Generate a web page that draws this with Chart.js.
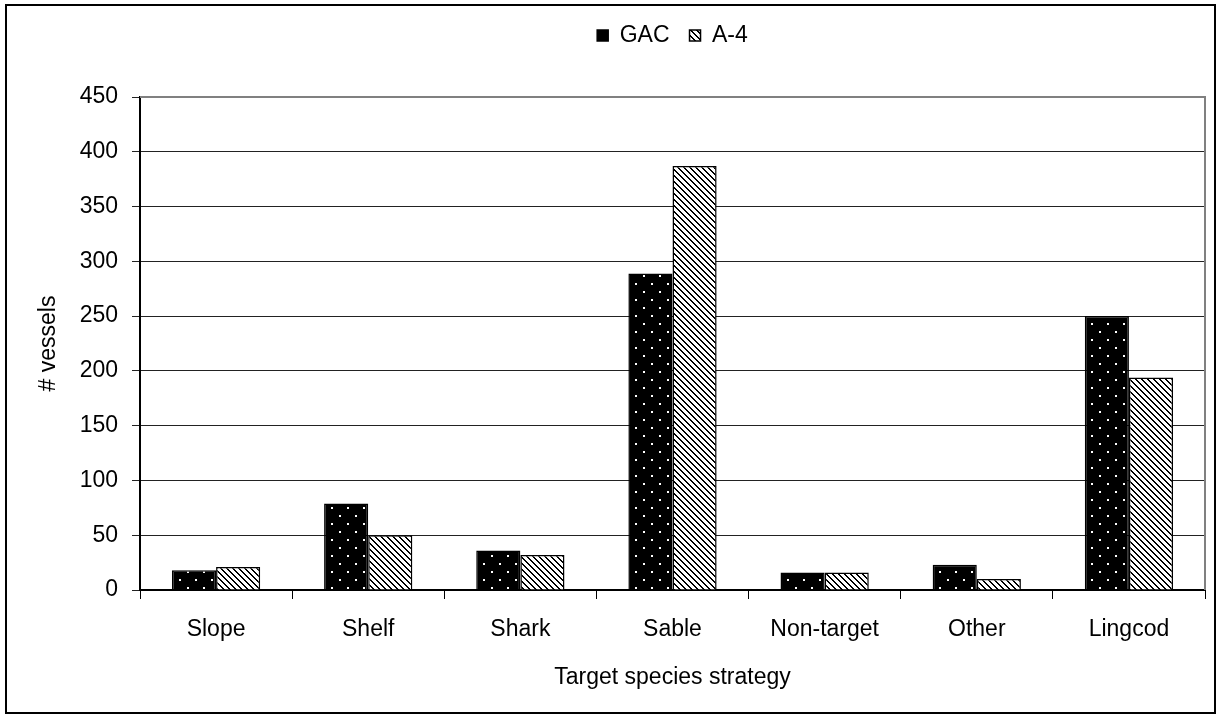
<!DOCTYPE html>
<html>
<head>
<meta charset="utf-8">
<script src="https://cdn.jsdelivr.net/npm/chart.js@4.4.1/dist/chart.umd.min.js"></script>
<style>
html,body{margin:0;padding:0;background:#fff;}
#wrap{position:relative;width:1220px;height:719px;}
</style>
</head>
<body>
<div id="wrap"><canvas id="c" width="1220" height="719"></canvas></div>
<script>
const categories = ['Slope','Shelf','Shark','Sable','Non-target','Other','Lingcod'];
const gacValues = [18, 79, 36, 289, 16, 23, 250];
const a4Values = [21, 50, 32, 387, 16, 10, 194];
const seriesNames = ['GAC','A-4'];
const yTitle = '# vessels';
const xTitle = 'Target species strategy';

function dotPattern(){
  const c = document.createElement('canvas'); c.width = 16; c.height = 16;
  const x = c.getContext('2d');
  x.fillStyle = '#000'; x.fillRect(0,0,16,16);
  x.fillStyle = '#fff'; x.fillRect(3,3,2,2); x.fillRect(11,11,2,2);
  return x.createPattern(c,'repeat');
}
function hatchPattern(){
  const c = document.createElement('canvas'); c.width = 6; c.height = 6;
  const x = c.getContext('2d');
  x.fillStyle = '#fff'; x.fillRect(0,0,6,6);
  x.fillStyle = '#000';
  for(let i=0;i<6;i++){ x.fillRect(i,i,1,1); x.fillRect((i+1)%6,i,1,1); }
  return x.createPattern(c,'repeat');
}

const FONT = "'Liberation Sans', Arial, sans-serif";
const FS = 23;

const frame = {
  id:'frame',
  beforeLayout(chart){
    const lg = chart.legend;
    if(lg && !lg._patched){
      const f = lg.fit.bind(lg);
      lg.fit = function(){ f(); this.height += 40; };
      lg._patched = true;
    }
  },
  afterLayout(chart){
    const lg = chart.legend, a = chart.chartArea;
    if(lg){ lg.left = a.left; lg.right = a.right; }
  },
  beforeDraw(chart){
    const ctx = chart.ctx;
    ctx.save();
    ctx.fillStyle='#fff'; ctx.fillRect(0,0,chart.width,chart.height);
    ctx.restore();
  },
  beforeDatasetsDraw(chart){
    const ctx = chart.ctx, a = chart.chartArea;
    ctx.save();
    ctx.strokeStyle='#808080'; ctx.lineWidth=2;
    ctx.beginPath();
    ctx.moveTo(a.left, a.top); ctx.lineTo(a.right, a.top); ctx.lineTo(a.right, a.bottom);
    ctx.stroke();
    ctx.restore();
  },
  afterDraw(chart){
    const ctx = chart.ctx;
    ctx.save();
    ctx.strokeStyle='#000'; ctx.lineWidth=2;
    ctx.strokeRect(6,5,1209,708);
    ctx.restore();
  }
};

new Chart(document.getElementById('c'), {
  type:'bar',
  data:{
    labels: categories,
    datasets:[
      {label: seriesNames[0], data: gacValues, backgroundColor: dotPattern(), borderColor:'#000', borderWidth:1.5},
      {label: seriesNames[1], data: a4Values, backgroundColor: hatchPattern(), borderColor:'#000', borderWidth:1.5}
    ]
  },
  options:{
    responsive:false,
    animation:false,
    devicePixelRatio:1,
    layout:{padding:{left:30, right:15, top:4, bottom:20}},
    datasets:{bar:{categoryPercentage:0.58, barPercentage:1.0}},
    plugins:{
      legend:{
        position:'top',
        labels:{boxWidth:11, boxHeight:11, font:{family:FONT, size:FS}, color:'#000', padding:20}
      },
      tooltip:{enabled:false}
    },
    scales:{
      x:{
        afterFit(s){ s.height = 109; },
        grid:{display:true, drawOnChartArea:false, drawTicks:true, tickLength:9, color:'#000', offset:true},
        border:{display:true, color:'#000', width:2},
        ticks:{font:{family:FONT, size:FS}, color:'#000', padding:17, maxRotation:0},
        title:{display:true, text:xTitle, font:{family:FONT, size:FS}, color:'#000', padding:{top:0,bottom:8}}
      },
      y:{
        min:0, max:450,
        afterFit(s){ s.width = 110; },
        grid:{color:'#222', lineWidth:1, tickLength:8, drawTicks:true},
        border:{display:true, color:'#000', width:2},
        ticks:{stepSize:50, font:{family:FONT, size:FS}, color:'#000', padding:14},
        title:{display:true, text:yTitle, font:{family:FONT, size:FS}, color:'#000', padding:{top:5,bottom:0}}
      }
    }
  },
  plugins:[frame]
});
</script>
</body>
</html>
